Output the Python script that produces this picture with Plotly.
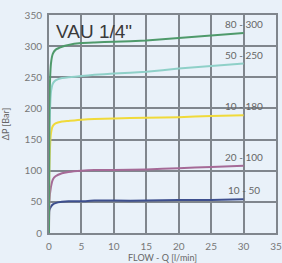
import plotly.graph_objects as go

flow = [0, 0.05, 0.3, 0.6, 1, 2, 3, 5, 7, 10, 15, 20, 25, 30]
s_80_300 = [0, 200, 272, 288, 294, 299, 302, 305, 306, 307, 309, 313, 317, 321]
s_50_250 = [0, 150, 226, 240, 245, 249, 250, 252, 254, 256, 259, 264, 268, 272]
s_10_180 = [0, 100, 160, 172, 176, 179, 180, 182, 183, 184, 185, 186, 188, 189]
s_20_100 = [0, 50, 74, 86, 91, 96, 98, 100, 101, 101, 102, 104, 106, 108]
s_10_50 = [0, 36, 42, 46, 48, 50, 51, 51, 52, 52, 52, 53, 53, 54]

series_names = ["80 - 300", "50 - 250", "10 - 180", "20 - 100", "10 - 50"]
series_values = [s_80_300, s_50_250, s_10_180, s_20_100, s_10_50]
colors = ["#4f9a6b", "#8fd0c8", "#f0da3a", "#a56a97", "#3d4f8e"]

x_ticks = [0, 5, 10, 15, 20, 25, 30, 35]
y_ticks = [0, 50, 100, 150, 200, 250, 300, 350]
title_text = 'VAU 1/4"'

bg = "#e9f1f9"
grid = "#80868d"
fig = go.Figure()

axis_common = dict(showgrid=True, gridcolor=grid, gridwidth=2,
                   zeroline=False, showline=True, linecolor=grid, linewidth=2,
                   mirror=True, ticks="", automargin=False, ticklabelstandoff=3,
                   tickfont=dict(size=10, color="#777777", family="Lato"))

for name, vals, col in list(zip(series_names, series_values, colors))[::-1]:
    fig.add_trace(go.Scatter(x=flow, y=vals, mode="lines", name=name,
                             line=dict(color=col, width=2, shape="spline", smoothing=0.4)))
    fig.add_annotation(x=flow[-1], y=vals[-1], text=name, showarrow=False,
                       xanchor="center", yanchor="bottom", yshift=1,
                       font=dict(size=10, color="#666666", family="Lato"))

fig.add_annotation(x=0.8, y=343, text=title_text, showarrow=False, xanchor="left",
                   yanchor="top", font=dict(size=19, color="#3a3a3a", family="Liberation Sans"))

fig.update_xaxes(range=[0, 35], tickmode="array", tickvals=x_ticks, **axis_common,
                 title=dict(text="FLOW - Q [l/min]", standoff=3,
                            font=dict(size=9, color="#666666", family="Lato")))
fig.update_yaxes(range=[0, 350], tickmode="array", tickvals=y_ticks, **axis_common,
                 title=dict(text="ΔP [Bar]", standoff=14,
                            font=dict(size=9, color="#666666", family="Lato")))
fig.update_layout(template="none", width=282, height=263,
                  margin=dict(l=49, r=6, t=15, b=30),
                  paper_bgcolor=bg, plot_bgcolor=bg, showlegend=False)
fig.write_html("out.html", config={"displayModeBar": False, "staticPlot": True},
               post_script="document.body.style.margin='0';document.body.style.background='%s';" % bg)
